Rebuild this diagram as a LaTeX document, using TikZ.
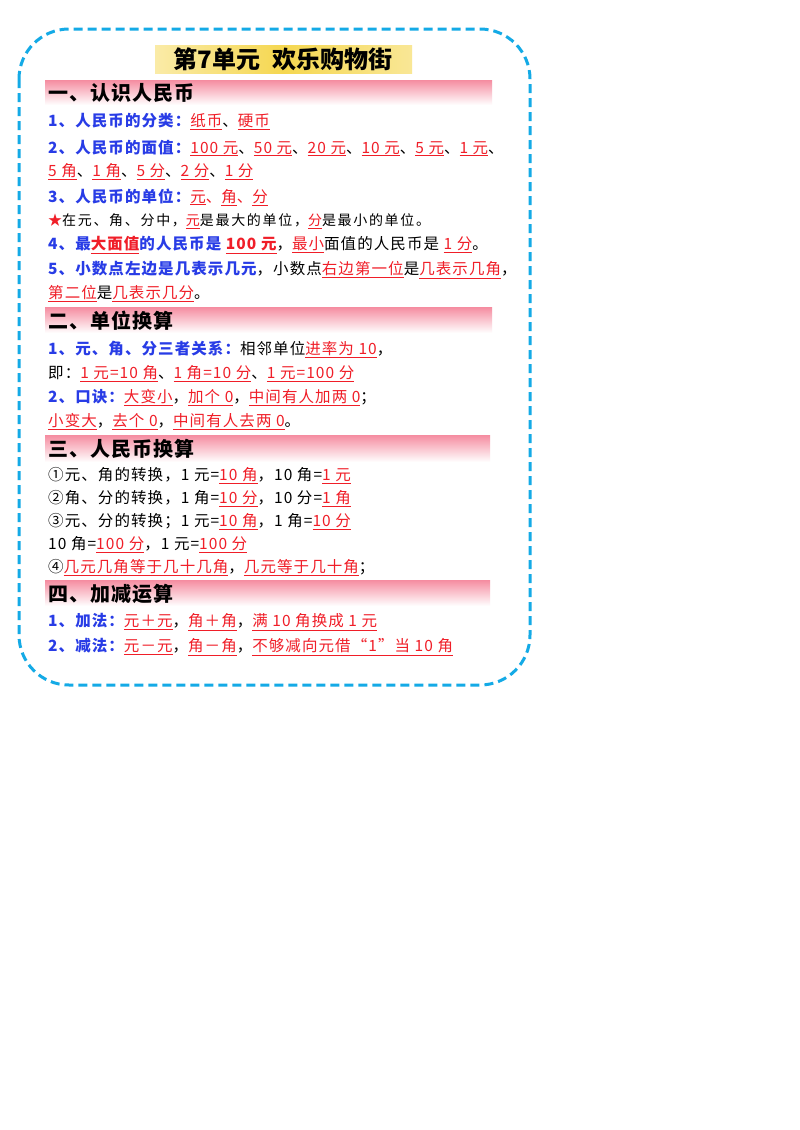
\documentclass[tikz,border=0pt]{standalone}
\usepackage{fontspec}
\setmainfont{Noto Sans CJK SC}
\usetikzlibrary{shadings}
\definecolor{bl}{RGB}{40,60,230}
\definecolor{rd}{RGB}{240,30,40}
\definecolor{cy}{RGB}{20,170,230}
\definecolor{pk}{RGB}{245,140,160}
\definecolor{yl}{RGB}{245,215,80}
\newcommand\rr[1]{\textcolor{rd}{\underline{#1}}}
\newcommand\bb[1]{\textcolor{bl}{\bfseries #1}}
\begin{document}
\begin{tikzpicture}[x=1pt,y=-1pt,
  ln/.style={anchor=west,inner sep=0pt,font=\fontsize{15.5}{17}\selectfont\addfontfeature{LetterSpace=7}},
  hd/.style={anchor=west,inner sep=0pt,font=\fontsize{20}{22}\selectfont\bfseries\addfontfeature{LetterSpace=5}},
  bar/.style={top color=pk,bottom color=white,draw=none}]
\useasboundingbox (0,0) rectangle (800,1130);
\fill[white] (0,0) rectangle (800,1130);
\draw[cy,line width=3pt,dash pattern=on 9pt off 5pt,rounded corners=50pt] (19,29) rectangle (530,685);
% title
\shade[left color=yl!50,right color=yl!60,middle color=yl] (155,45) rectangle (412,73);
\node[anchor=center,inner sep=0pt,font=\fontsize{24}{26}\selectfont\bfseries] (title) at (283,59) {第7单元\hspace{12pt}欢乐购物街};
% bars
\shade[bar] (45,80) rectangle (492,105);
\shade[bar] (45,307) rectangle (492,333);
\shade[bar] (45,435) rectangle (490,462);
\shade[bar] (45,580) rectangle (490,606);
\node[hd] (h1) at (48,93) {一、认识人民币};
\node[hd] (h2) at (48,321) {二、单位换算};
\node[hd] (h3) at (48,449) {三、人民币换算};
\node[hd] (h4) at (48,594) {四、加减运算};
% section 1
\node[ln] (a1) at (48,122) {\bb{1、人民币的分类：}\rr{纸币}、\rr{硬币}};
\node[ln] (a2) at (48,148) {\bb{2、人民币的面值：}\rr{100 元}、\rr{50 元}、\rr{20 元}、\rr{10 元}、\rr{5 元}、\rr{1 元}、};
\node[ln] (a3) at (48,172) {\rr{5 角}、\rr{1 角}、\rr{5 分}、\rr{2 分}、\rr{1 分}};
\node[ln] (a4) at (48,197) {\bb{3、人民币的单位：}\rr{元}\textcolor{rd}{、}\rr{角}\textcolor{rd}{、}\rr{分}};
\node[ln,font=\fontsize{14}{16}\selectfont\addfontfeature{LetterSpace=12}] (a5) at (48,221) {\textcolor{rd}{★}在元、角、分中，\rr{元}是最大的单位，\rr{分}是最小的单位。};
\node[ln] (a6) at (48,245) {\bb{4、最}\textcolor{rd}{\bfseries\underline{大面值}}\bb{的人民币是 }\textcolor{rd}{\bfseries\underline{100 元}}，\rr{最小}面值的人民币是 \rr{1 分}。};
\node[ln] (a7) at (48,270) {\bb{5、小数点左边是几表示几元}，小数点\rr{右边第一位}是\rr{几表示几角}，};
\node[ln] (a8) at (48,294) {\rr{第二位}是\rr{几表示几分}。};
% section 2
\node[ln] (b1) at (48,349) {\bb{1、元、角、分三者关系：}相邻单位\rr{进率为 10}，};
\node[ln] (b2) at (48,374) {即：\rr{1 元=10 角}、\rr{1 角=10 分}、\rr{1 元=100 分}};
\node[ln] (b3) at (48,398) {\bb{2、口诀：}\rr{大变小}，\rr{加个 0}，\rr{中间有人加两 0}；};
\node[ln] (b4) at (48,422) {\rr{小变大}，\rr{去个 0}，\rr{中间有人去两 0}。};
% section 3
\node[ln] (c1) at (48,476) {①元、角的转换，1 元=\rr{10 角}，10 角=\rr{1 元}};
\node[ln] (c2) at (48,499) {②角、分的转换，1 角=\rr{10 分}，10 分=\rr{1 角}};
\node[ln] (c3) at (48,522) {③元、分的转换；1 元=\rr{10 角}，1 角=\rr{10 分}};
\node[ln] (c4) at (48,545) {10 角=\rr{100 分}，1 元=\rr{100 分}};
\node[ln] (c5) at (48,568) {④\rr{几元几角等于几十几角}，\rr{几元等于几十角}；};
% section 4
\node[ln] (d1) at (48,622) {\bb{1、加法：}\rr{元＋元}，\rr{角＋角}，\rr{满 10 角换成 1 元}};
\node[ln] (d2) at (48,647) {\bb{2、减法：}\rr{元－元}，\rr{角－角}，\rr{不够减向元借“1”当 10 角}};
\end{tikzpicture}
\end{document}
